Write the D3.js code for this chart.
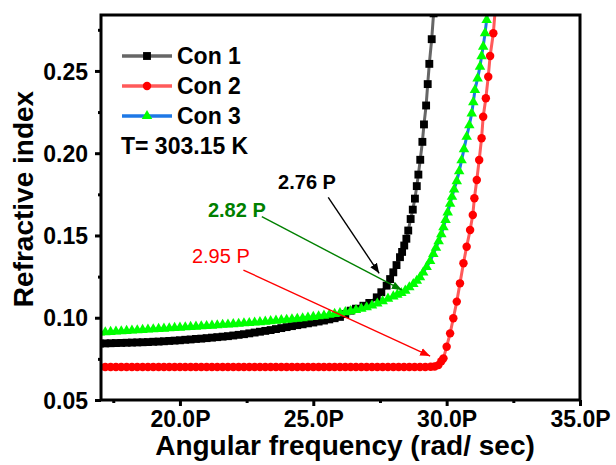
<!DOCTYPE html>
<html>
<head>
<meta charset="utf-8">
<script src="https://cdn.jsdelivr.net/npm/d3@7"></script>
<style>
  html, body { margin: 0; padding: 0; background: #fff; }
  svg { display: block; font-family: "Liberation Sans", Arial, sans-serif; }
</style>
</head>
<body>
<svg id="chart" width="616" height="465"></svg>
<script>
// Refractive index vs angular frequency for three concentrations at T = 303.15 K
const seriesNames = ["Con 1", "Con 2", "Con 3"];

const con1 = [
  [17.0,0.0843],[17.2,0.0844],[17.4,0.0845],[17.6,0.0846],[17.8,0.0847],[18.0,0.0848],
  [18.2,0.0849],[18.4,0.0850],[18.6,0.0851],[18.8,0.0852],[19.0,0.0854],[19.2,0.0855],
  [19.4,0.0857],[19.6,0.0859],[19.8,0.0861],[20.0,0.0863],[20.2,0.0866],[20.4,0.0868],
  [20.6,0.0871],[20.8,0.0873],[21.0,0.0876],[21.2,0.0879],[21.4,0.0882],[21.6,0.0885],
  [21.8,0.0888],[22.0,0.0892],[22.2,0.0896],[22.4,0.0900],[22.6,0.0905],[22.8,0.0910],
  [23.0,0.0915],[23.2,0.0920],[23.4,0.0925],[23.6,0.0931],[23.8,0.0937],[24.0,0.0943],
  [24.2,0.0949],[24.4,0.0955],[24.6,0.0960],[24.8,0.0966],[25.0,0.0971],[25.2,0.0977],
  [25.4,0.0983],[25.6,0.0990],[25.8,0.0997],[26.0,0.1005],[26.2,0.1022],[26.4,0.1043],
  [26.6,0.1055],[26.88,0.1073],[27.1,0.1090],[27.38,0.1124],[27.55,0.1155],[27.75,0.1195],
  [27.88,0.1235],[28.0,0.1276],[28.12,0.1320],[28.25,0.1368],[28.33,0.1400],[28.41,0.1439],
  [28.49,0.1480],[28.56,0.1530],[28.65,0.1600],[28.73,0.1657],[28.81,0.1724],[28.88,0.1800],
  [28.94,0.1870],[29.01,0.1960],[29.09,0.2069],[29.15,0.2175],[29.23,0.2290],[29.29,0.2420],
  [29.35,0.2543],[29.44,0.2693],[29.51,0.2850]
];

const con2 = [
  [17.0,0.0701],[17.2,0.0701],[17.4,0.0701],[17.6,0.0701],[17.8,0.0701],[18.0,0.0701],
  [18.2,0.0701],[18.4,0.0701],[18.6,0.0701],[18.8,0.0701],[19.0,0.0701],[19.2,0.0701],
  [19.4,0.0701],[19.6,0.0701],[19.8,0.0701],[20.0,0.0701],[20.2,0.0701],[20.4,0.0701],
  [20.6,0.0701],[20.8,0.0701],[21.0,0.0701],[21.2,0.0701],[21.4,0.0701],[21.6,0.0701],
  [21.8,0.0701],[22.0,0.0701],[22.2,0.0701],[22.4,0.0701],[22.6,0.0701],[22.8,0.0701],
  [23.0,0.0701],[23.2,0.0701],[23.4,0.0701],[23.6,0.0701],[23.8,0.0701],[24.0,0.0701],
  [24.2,0.0701],[24.4,0.0701],[24.6,0.0701],[24.8,0.0701],[25.0,0.0701],[25.2,0.0701],
  [25.4,0.0701],[25.6,0.0701],[25.8,0.0701],[26.0,0.0701],[26.2,0.0701],[26.4,0.0701],
  [26.6,0.0701],[26.8,0.0701],[27.0,0.0701],[27.2,0.0701],[27.4,0.0701],[27.6,0.0701],
  [27.8,0.0701],[28.0,0.0701],[28.2,0.0701],[28.4,0.0701],[28.6,0.0701],[28.8,0.0701],
  [29.0,0.0701],[29.2,0.0701],[29.4,0.0702],[29.55,0.0704],[29.69,0.0712],[29.8,0.0735],
  [29.88,0.0753],[30.0,0.0824],[30.13,0.0905],[30.25,0.0997],[30.38,0.1098],[30.5,0.1209],
  [30.63,0.1331],[30.75,0.1432],[30.88,0.1533],[30.98,0.1625],[31.04,0.1726],[31.13,0.1837],
  [31.22,0.1959],[31.31,0.2091],[31.37,0.2222],[31.47,0.2334],[31.56,0.2465],[31.63,0.2591],
  [31.75,0.2729],[31.82,0.2870]
];

const con3 = [
  [17.0,0.0910],[17.2,0.0912],[17.4,0.0914],[17.6,0.0916],[17.8,0.0918],[18.0,0.0920],
  [18.2,0.0922],[18.4,0.0924],[18.6,0.0926],[18.8,0.0928],[19.0,0.0930],[19.2,0.0932],
  [19.4,0.0934],[19.6,0.0936],[19.8,0.0938],[20.0,0.0940],[20.2,0.0942],[20.4,0.0944],
  [20.6,0.0946],[20.8,0.0948],[21.0,0.0950],[21.2,0.0952],[21.4,0.0954],[21.6,0.0957],
  [21.8,0.0959],[22.0,0.0961],[22.2,0.0963],[22.4,0.0966],[22.6,0.0968],[22.8,0.0971],
  [23.0,0.0973],[23.2,0.0976],[23.4,0.0979],[23.6,0.0982],[23.8,0.0985],[24.0,0.0988],
  [24.2,0.0991],[24.4,0.0994],[24.6,0.0997],[24.8,0.1001],[25.0,0.1005],[25.2,0.1009],
  [25.4,0.1013],[25.6,0.1018],[25.8,0.1023],[26.0,0.1028],[26.2,0.1034],[26.4,0.1040],
  [26.6,0.1047],[26.8,0.1055],[27.0,0.1064],[27.2,0.1074],[27.4,0.1086],[27.6,0.1100],
  [27.8,0.1116],[28.0,0.1130],[28.15,0.1140],[28.3,0.1150],[28.45,0.1165],[28.6,0.1185],
  [28.75,0.1205],[28.88,0.1225],[29.0,0.1246],[29.12,0.1275],[29.25,0.1308],[29.38,0.1345],
  [29.5,0.1388],[29.6,0.1425],[29.7,0.1465],[29.8,0.1508],[29.88,0.1550],[29.96,0.1595],
  [30.04,0.1640],[30.13,0.1693],[30.2,0.1735],[30.28,0.1780],[30.38,0.1830],[30.47,0.1890],
  [30.56,0.1957],[30.65,0.2025],[30.75,0.2100],[30.85,0.2170],[30.94,0.2242],[31.0,0.2310],
  [31.06,0.2384],[31.16,0.2455],[31.25,0.2526],[31.31,0.2590],[31.37,0.2648],[31.44,0.2730],
  [31.5,0.2810],[31.56,0.2890]
];

const xTicks = [20, 25, 30, 35];
const xMinorTicks = [17.5, 22.5, 27.5, 32.5];
const yTicks = [0.05, 0.10, 0.15, 0.20, 0.25];
const yMinorTicks = [0.075, 0.125, 0.175, 0.225, 0.275];

// Annotated values: label anchor, arrow start and arrow tip in data units
const noteLabels = ["2.76 P", "2.82 P", "2.95 P"];
const noteText = [[23.68, 0.1783], [21.05, 0.1612], [20.45, 0.1333]];
const noteFrom = [[25.56, 0.1732], [23.07, 0.1614], [22.38, 0.1290]];
const noteTip = [[27.47, 0.1270], [28.32, 0.1169], [29.38, 0.0767]];

const svg = d3.select("#chart");
const margin = { top: 15, right: 36, bottom: 65, left: 101 };
const W = 616, H = 465;
const innerW = W - margin.left - margin.right;
const innerH = H - margin.top - margin.bottom;

const x = d3.scaleLinear().domain([17.04, 35]).range([0, innerW]);
const y = d3.scaleLinear().domain([0.05, 0.284]).range([innerH, 0]);

const g = svg.append("g").attr("transform", `translate(${margin.left},${margin.top})`);

g.append("defs").append("clipPath").attr("id", "plotClip")
  .append("rect").attr("width", innerW).attr("height", innerH);

const styles = [
  { line: "#666666", fill: "#000000", symbol: d3.symbolSquare, size: 62 },
  { line: "#ff5a5a", fill: "#ff0000", symbol: d3.symbolCircle, size: 56 },
  { line: "#1e78e6", fill: "#00ff00", symbol: d3.symbolTriangle, size: 48 }
];
const allSeries = [con1, con2, con3];

const plot = g.append("g").attr("clip-path", "url(#plotClip)");
const lineGen = d3.line().x(d => x(d[0])).y(d => y(d[1]));

allSeries.forEach((data, i) => {
  const s = styles[i];
  const sg = plot.append("g");
  sg.append("path").datum(data)
    .attr("d", lineGen)
    .attr("fill", "none")
    .attr("stroke", s.line)
    .attr("stroke-width", 3);
  sg.selectAll("path.pt").data(data).join("path")
    .attr("class", "pt")
    .attr("transform", d => `translate(${x(d[0])},${y(d[1])})`)
    .attr("d", d3.symbol().type(s.symbol).size(s.size))
    .attr("fill", s.fill);
});

// Axes
const fmtX = d => d.toFixed(1) + "P";
const xAxis = g.append("g").attr("transform", `translate(0,${innerH})`)
  .call(d3.axisBottom(x).tickValues(xTicks).tickFormat(fmtX).tickSize(6).tickSizeOuter(0).tickPadding(4));
g.append("g").attr("transform", `translate(0,${innerH})`)
  .call(d3.axisBottom(x).tickValues(xMinorTicks).tickFormat("").tickSize(3).tickSizeOuter(0));
const yAxis = g.append("g")
  .call(d3.axisLeft(y).tickValues(yTicks).tickFormat(d3.format(".2f")).tickSize(6).tickSizeOuter(0).tickPadding(6));
g.append("g")
  .call(d3.axisLeft(y).tickValues(yMinorTicks).tickFormat("").tickSize(3).tickSizeOuter(0));

g.selectAll(".domain").remove();
g.selectAll(".tick line").attr("stroke", "#000").attr("stroke-width", 3);
xAxis.selectAll("text").attr("font-size", 23).attr("font-weight", "bold").attr("fill", "#000")
  .attr("dy", null).attr("y", 0).attr("transform", "translate(0,27)");
yAxis.selectAll("text").attr("font-size", 23).attr("font-weight", "bold").attr("fill", "#000")
  .attr("dy", "0.35em").attr("x", -13);

// Frame
g.append("rect").attr("width", innerW).attr("height", innerH)
  .attr("fill", "none").attr("stroke", "#000").attr("stroke-width", 3);

// Axis titles
svg.append("text")
  .attr("x", 345).attr("y", 455)
  .attr("text-anchor", "middle").attr("font-size", 28).attr("font-weight", "bold")
  .text("Angular frequency (rad/ sec)");
svg.append("text")
  .attr("transform", `translate(33,199) rotate(-90)`)
  .attr("text-anchor", "middle").attr("font-size", 28).attr("font-weight", "bold")
  .text("Refractive index");

// Legend
const legend = g.append("g").attr("transform", "translate(21,41)");
seriesNames.forEach((name, i) => {
  const s = styles[i];
  const row = legend.append("g").attr("transform", `translate(0,${i * 30})`);
  row.append("line").attr("x1", 0).attr("x2", 50).attr("y1", 0).attr("y2", 0)
    .attr("stroke", s.line).attr("stroke-width", 3.5);
  row.append("path").attr("transform", "translate(25,0)")
    .attr("d", d3.symbol().type(s.symbol).size(s.size)).attr("fill", s.fill);
  row.append("text").attr("x", 55).attr("y", 8)
    .attr("font-size", 23).attr("font-weight", "bold").text(name);
});
legend.append("text").attr("x", -1).attr("y", 98)
  .attr("font-size", 23).attr("font-weight", "bold").text("T= 303.15 K");

// Annotations with arrows
const noteColors = ["#000000", "#008000", "#ff0000"];
const noteWeights = ["bold", "bold", "normal"];
const defs = svg.append("defs");
noteColors.forEach((c, i) => {
  defs.append("marker").attr("id", "arrow" + i)
    .attr("viewBox", "0 0 10 10").attr("refX", 10).attr("refY", 5)
    .attr("markerWidth", 10).attr("markerHeight", 10)
    .attr("markerUnits", "userSpaceOnUse").attr("orient", "auto")
    .append("path").attr("d", "M0,1 L10,5 L0,9 Z").attr("fill", c);
});
noteLabels.forEach((lab, i) => {
  g.append("text").attr("x", x(noteText[i][0])).attr("y", y(noteText[i][1]))
    .attr("font-size", 20).attr("font-weight", noteWeights[i]).attr("fill", noteColors[i])
    .text(lab);
  g.append("line")
    .attr("x1", x(noteFrom[i][0])).attr("y1", y(noteFrom[i][1]))
    .attr("x2", x(noteTip[i][0])).attr("y2", y(noteTip[i][1]))
    .attr("stroke", noteColors[i]).attr("stroke-width", 1.4)
    .attr("marker-end", `url(#arrow${i})`);
});
</script>
</body>
</html>
